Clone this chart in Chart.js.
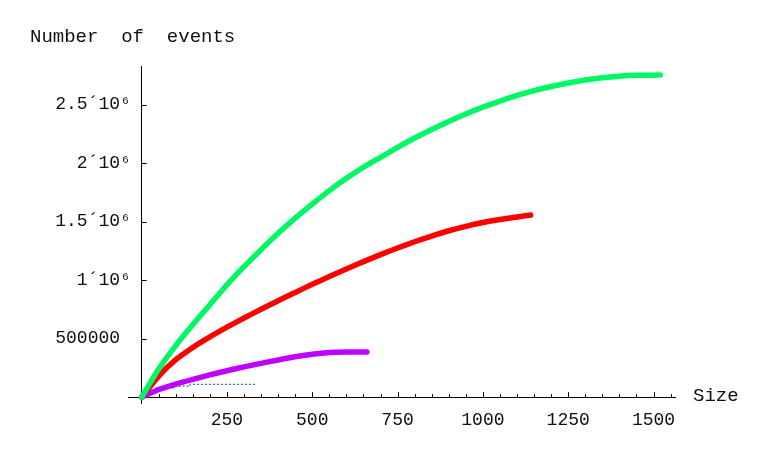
<!DOCTYPE html>
<html lang="en">
<head>
    <meta charset="UTF-8">
    <title>Number of events vs Size</title>
    <script src="https://cdn.jsdelivr.net/npm/chart.js"></script>
    <style>
        body {
            margin: 0;
            background: #ffffff;
        }
        #box {
            width: 773px;
            height: 457px;
        }
    </style>
</head>
<body>
    <div id="box"><canvas id="eventsChart" width="773" height="457"></canvas></div>
    <script>
        // values
        const greenSize = [0, 50, 100, 150, 200, 250, 300, 350, 400, 450, 500, 550, 600, 650, 700, 750, 800, 850, 900, 950, 1000, 1050, 1100, 1150, 1200, 1250, 1300, 1350, 1400, 1450, 1500, 1520];
        const greenEvents = [0, 240000, 440000, 620000, 790000, 960000, 1115000, 1260000, 1400000, 1530000, 1650000, 1765000, 1870000, 1965000, 2050000, 2135000, 2215000, 2288000, 2356000, 2420000, 2478000, 2530000, 2578000, 2620000, 2655000, 2685000, 2710000, 2730000, 2743000, 2750000, 2752000, 2753000];

        const redSize = [0, 50, 100, 150, 200, 250, 300, 350, 400, 450, 500, 550, 600, 650, 700, 750, 800, 850, 900, 950, 1000, 1050, 1100, 1140];
        const redEvents = [0, 180000, 320000, 425000, 515000, 598000, 676000, 751000, 824000, 895000, 964000, 1031000, 1095000, 1158000, 1218000, 1275000, 1328000, 1377000, 1422000, 1460000, 1492000, 1518000, 1540000, 1556000];

        const purpleSize = [0, 50, 100, 150, 200, 250, 300, 350, 400, 450, 500, 550, 600, 660];
        const purpleEvents = [0, 65000, 112000, 152000, 190000, 226000, 259000, 289000, 318000, 345000, 367000, 381000, 385000, 386000];

        const blueSize = [40, 100, 142, 202, 332];
        const blueEvents = [54000, 80000, 94000, 109000, 109000];

        const xTickValues = [250, 500, 750, 1000, 1250, 1500];
        const yTickValues = [500000, 1000000, 1500000, 2000000, 2500000];
        // trailing spaces keep the labels clear of the axis line
        const yTickLabels = ['500000  ', '1´10⁶ ', '1.5´10⁶ ', '2´10⁶ ', '2.5´10⁶ '];

        const xTitle = 'Size';
        const yTitle = 'Number  of  events';

        const toPoints = (xs, ys) => xs.map((x, i) => ({ x: x, y: ys[i] }));
        const fontFamily = '"Liberation Mono", "DejaVu Sans Mono", monospace';

        // small tick marks on the axes and the axis titles
        const axisDecor = {
            id: 'axisDecor',
            afterDraw(chart) {
                const ctx = chart.ctx;
                const xs = chart.scales.x;
                const ys = chart.scales.y;
                const x0 = xs.getPixelForValue(0);
                const y0 = ys.getPixelForValue(0);
                ctx.save();
                ctx.strokeStyle = '#000';
                ctx.lineWidth = 1;
                ctx.beginPath();
                for (let v = 50; v <= 1550; v += 50) {
                    const px = Math.round(xs.getPixelForValue(v)) + 0.5;
                    const len = v % 250 === 0 ? 5 : 3;
                    ctx.moveTo(px, y0);
                    ctx.lineTo(px, y0 - len);
                }
                yTickValues.forEach(v => {
                    const py = Math.round(ys.getPixelForValue(v)) + 0.5;
                    ctx.moveTo(x0, py);
                    ctx.lineTo(x0 + 5, py);
                });
                ctx.stroke();

                ctx.fillStyle = '#111';
                ctx.font = '19px ' + fontFamily;
                ctx.textBaseline = 'middle';
                ctx.textAlign = 'left';
                ctx.fillText(yTitle, 30, 37);
                ctx.fillText(xTitle, 693, 396);
                ctx.restore();
            }
        };

        const ctx = document.getElementById('eventsChart').getContext('2d');
        const chart = new Chart(ctx, {
            type: 'line',
            data: {
                datasets: [
                    {
                        data: toPoints(greenSize, greenEvents),
                        borderColor: '#00f864',
                        borderWidth: 5.5,
                        borderCapStyle: 'round',
                        pointRadius: 0,
                        tension: 0.2
                    },
                    {
                        data: toPoints(redSize, redEvents),
                        borderColor: '#ff0000',
                        borderWidth: 5.5,
                        borderCapStyle: 'round',
                        pointRadius: 0,
                        tension: 0.2
                    },
                    {
                        data: toPoints(purpleSize, purpleEvents),
                        borderColor: '#c000ff',
                        borderWidth: 5.5,
                        borderCapStyle: 'round',
                        pointRadius: 0,
                        tension: 0.2
                    },
                    {
                        data: toPoints(blueSize, blueEvents),
                        borderColor: '#2a62b0',
                        borderWidth: 1.2,
                        borderDash: [2, 2],
                        stepped: 'after',
                        pointRadius: 0
                    }
                ]
            },
            options: {
                responsive: false,
                animation: false,
                layout: {
                    padding: { left: 128, right: 98, top: 66, bottom: 54 }
                },
                plugins: {
                    legend: { display: false },
                    tooltip: { enabled: false }
                },
                scales: {
                    x: {
                        type: 'linear',
                        min: -40,
                        max: 1563,
                        position: { y: 0 },
                        grid: { display: false, drawTicks: false },
                        border: { display: true, color: '#000', width: 1 },
                        afterBuildTicks: s => { s.ticks = xTickValues.map(v => ({ value: v })); },
                        ticks: {
                            padding: 12,
                            color: '#111',
                            font: { family: fontFamily, size: 18 },
                            maxRotation: 0,
                            autoSkip: false,
                            callback: v => String(v)
                        }
                    },
                    y: {
                        type: 'linear',
                        min: -50000,
                        max: 2830000,
                        position: { x: 0 },
                        grid: { display: false, drawTicks: false },
                        border: { display: true, color: '#000', width: 1 },
                        afterBuildTicks: s => { s.ticks = yTickValues.map(v => ({ value: v })); },
                        ticks: {
                            color: '#111',
                            font: { family: fontFamily, size: 18 },
                            autoSkip: false,
                            callback: v => yTickLabels[yTickValues.indexOf(v)]
                        }
                    }
                }
            },
            plugins: [axisDecor]
        });
    </script>
</body>
</html>
